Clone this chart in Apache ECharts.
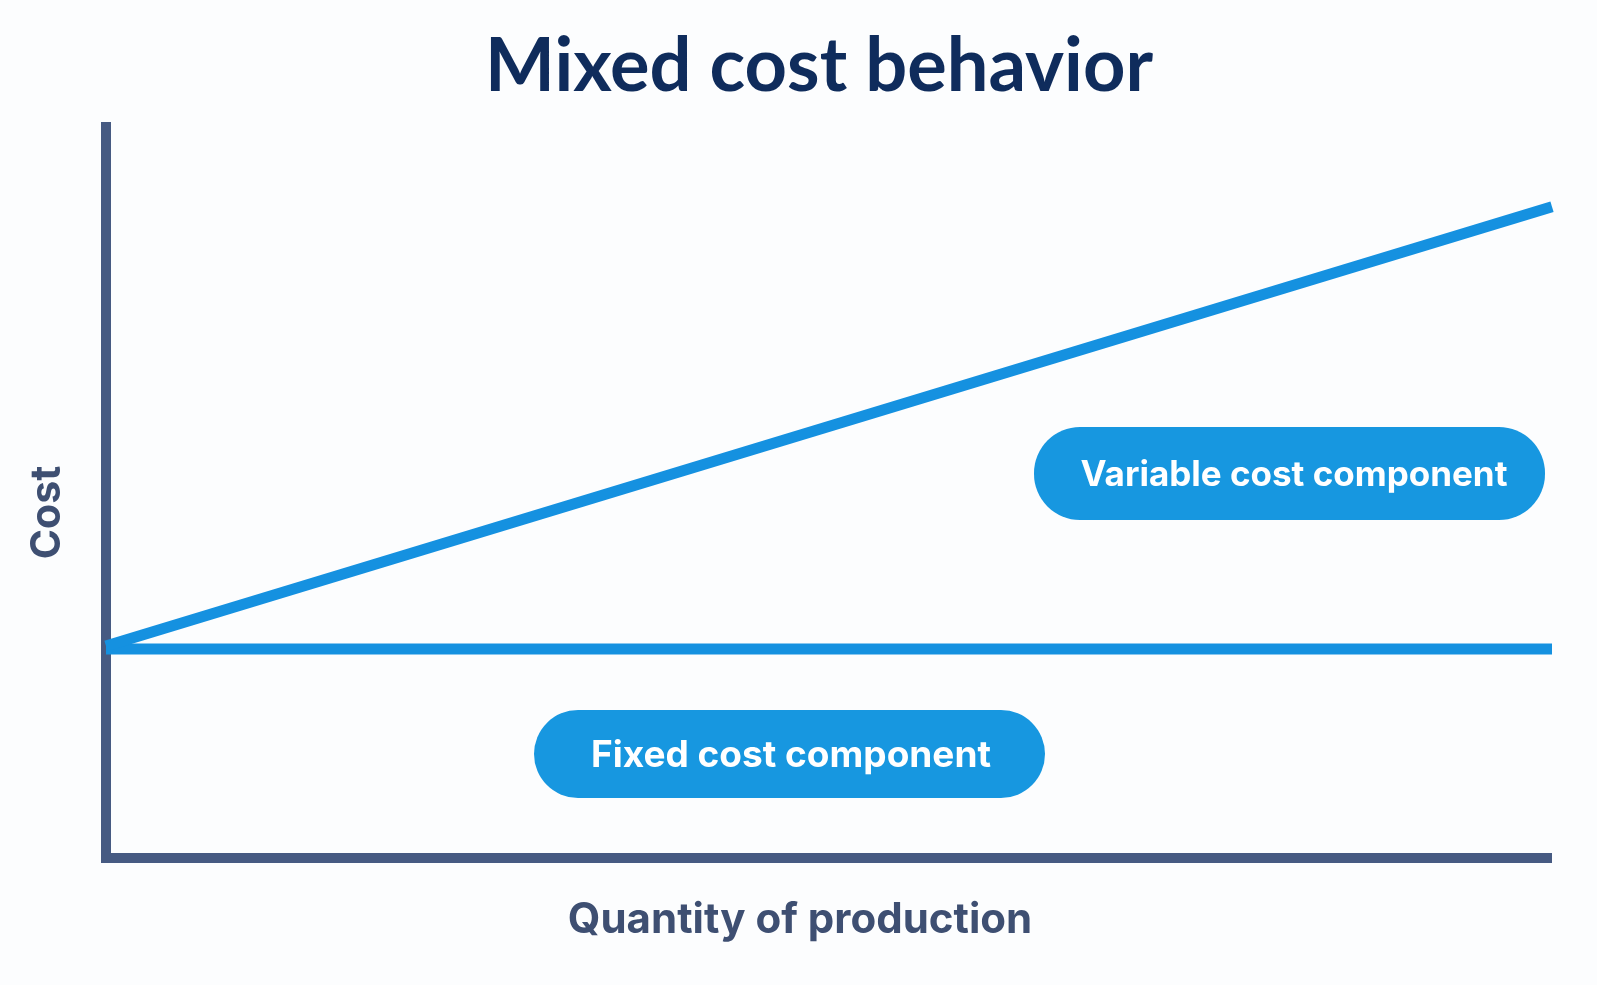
<!DOCTYPE html>
<html>
<head>
<meta charset="utf-8">
<script src="https://cdn.jsdelivr.net/npm/echarts@6/dist/echarts.min.js"></script>
<style>
  html, body { margin: 0; padding: 0; background: #fcfdfe; }
  #chart { width: 1597px; height: 985px; }
</style>
</head>
<body>
<div id="chart"></div>
<script>
var quantity = [0, 100];
var fixedCost = [28.6, 28.6];
var mixedCost = [29.0, 89.1];
var labels = ['Variable cost component', 'Fixed cost component'];

var axisColor = '#465a82';
var lineColor = '#1591e0';
var pillColor = '#1797e0';
var titleFont = 'Lato';
var font = 'Inter';

var toPairs = function (xs, ys) {
    var res = [];
    for (var i = 0; i < xs.length; i++) {
        res.push([xs[i], ys[i]]);
    }
    return res;
};

var dom = document.getElementById('chart');
var myChart = echarts.init(dom);

var option = {
    backgroundColor: '#fcfdfe',
    animation: false,
    grid: { left: 106, right: 45, top: 127, bottom: 127 },
    xAxis: {
        type: 'value',
        min: 0,
        max: 100,
        name: 'Quantity of production',
        nameLocation: 'middle',
        nameGap: 41,
        nameTextStyle: {
            color: '#3e4f72', fontSize: 42, fontWeight: 'bold', fontFamily: font,
            padding: [0, 58, 0, 0]
        },
        axisLine: { onZero: false, lineStyle: { color: axisColor, width: 10, cap: 'butt' } },
        axisTick: { show: false },
        axisLabel: { show: false },
        splitLine: { show: false }
    },
    yAxis: {
        type: 'value',
        min: 0,
        max: 100,
        name: 'Cost',
        nameLocation: 'middle',
        nameGap: 38,
        nameTextStyle: {
            color: '#3e4f72', fontSize: 41, fontWeight: 'bold', fontFamily: font,
            padding: [0, 40, 0, 0]
        },
        axisLine: { onZero: false, lineStyle: { color: axisColor, width: 10, cap: 'square' } },
        axisTick: { show: false },
        axisLabel: { show: false },
        splitLine: { show: false }
    },
    series: [
        {
            name: 'Fixed cost',
            type: 'line',
            data: toPairs(quantity, fixedCost),
            symbol: 'none',
            lineStyle: { color: lineColor, width: 11 },
            z: 3
        },
        {
            name: 'Mixed cost',
            type: 'line',
            data: toPairs(quantity, mixedCost),
            symbol: 'none',
            lineStyle: { color: lineColor, width: 11 },
            z: 3
        }
    ],
    graphic: [
        {
            type: 'text',
            x: 819,
            y: 67,
            style: {
                text: 'Mixed cost behavior',
                fill: '#0f2c5c',
                font: 'bold 74px ' + titleFont,
                textAlign: 'center',
                textVerticalAlign: 'middle'
            }
        },
        {
            type: 'rect',
            shape: { x: 1034, y: 427, width: 511, height: 93, r: 46 },
            style: { fill: pillColor }
        },
        {
            type: 'text',
            x: 1294,
            y: 475,
            style: {
                text: labels[0],
                fill: '#ffffff',
                font: 'bold 35px ' + font,
                textAlign: 'center',
                textVerticalAlign: 'middle'
            }
        },
        {
            type: 'rect',
            shape: { x: 534, y: 710, width: 511, height: 88, r: 44 },
            style: { fill: pillColor }
        },
        {
            type: 'text',
            x: 791,
            y: 756,
            style: {
                text: labels[1],
                fill: '#ffffff',
                font: 'bold 37px ' + font,
                textAlign: 'center',
                textVerticalAlign: 'middle'
            }
        }
    ]
};

myChart.setOption(option);
</script>
</body>
</html>
